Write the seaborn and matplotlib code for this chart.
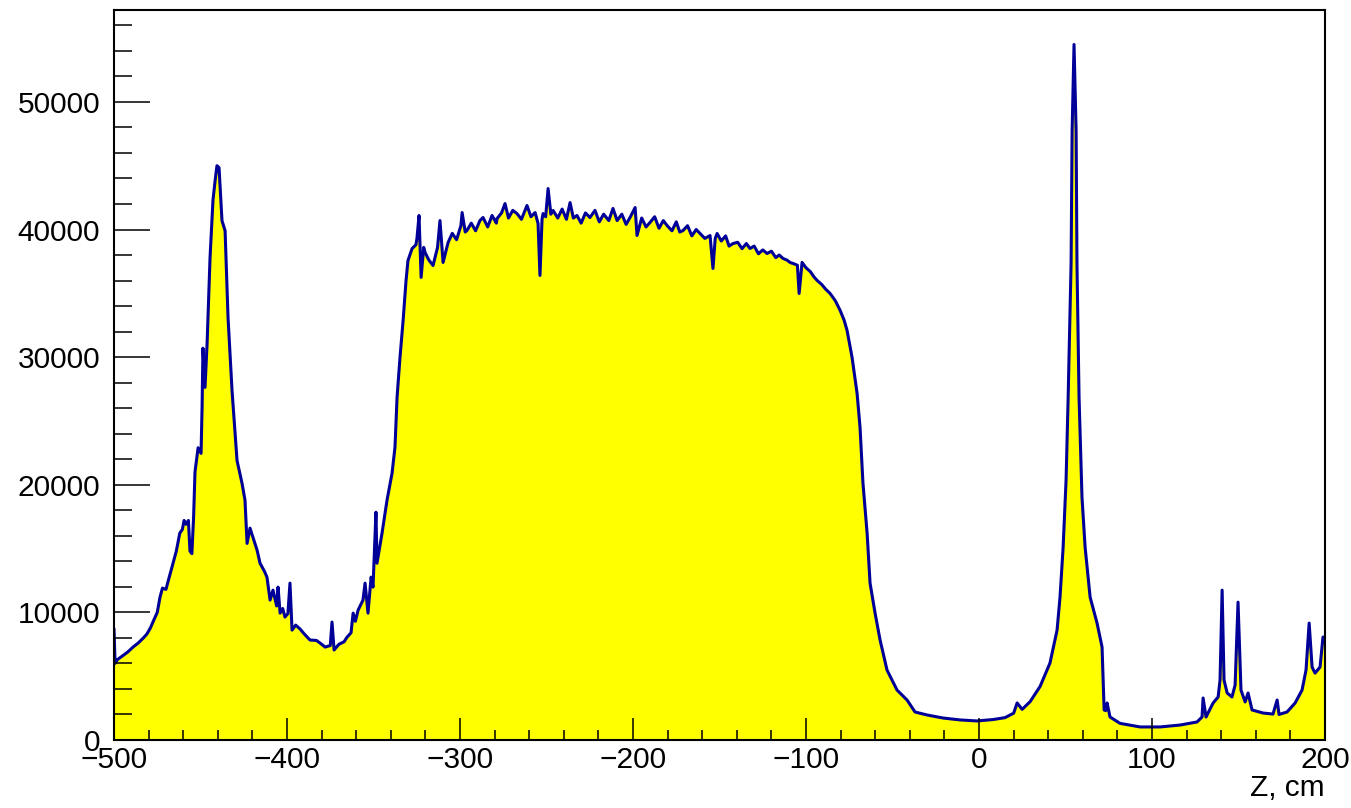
import pandas as pd
import matplotlib
matplotlib.use("Agg")
import matplotlib.pyplot as plt
import seaborn as sns
from matplotlib.ticker import MultipleLocator

# ============================================
# Data
# ============================================

z_left = [
    -500, -499.4, -498, -495, -492, -489, -486, -483, -481, -479, -477, -475,
    -473.4, -472, -470, -468, -466.5, -464, -462, -460.5, -459.5, -458.4, -457,
    -456.1, -455, -454, -453.2, -451.4, -449.7, -449.1, -448.6, -447.4, -446.2,
    -444.5, -442.8, -441.6, -440.5, -439.3, -437.6, -435.8, -434.1, -431.8,
    -428.9, -426, -424.3, -423.1, -421.4, -419, -417.3, -415.6, -413, -411.6,
    -409.8, -408.1, -406, -405.2, -404, -402.5, -401.2, -399.5, -398.3, -397.1,
    -395, -392.5,
]
counts_left = [
    8700, 6000, 6300, 6600, 6900, 7280, 7600, 8000, 8300, 8770, 9400, 10000,
    11200, 11900, 11800, 12800, 13540, 14800, 16200, 16500, 17200, 16900, 17200,
    14800, 14600, 17500, 21000, 22900, 22460, 26070, 30700, 27630, 31080,
    37800, 42300, 43800, 45000, 44850, 40700, 39900, 33100, 27400,
    21900, 20100, 18800, 15400, 16600, 15600, 14870, 13850, 13200, 12760,
    10960, 11740, 10500, 11980, 9940, 10300, 9630, 9900, 12290, 8610,
    9000, 8700,
]

z_rise = [
    -390, -386.7, -383, -380, -378, -375, -374, -372.8, -370, -367, -365.3,
    -363, -361.8, -360.5, -358.9, -356.1, -354.9, -353.2, -351.4, -350.3,
    -348.6, -348, -345.1, -342.2, -339.3, -337.6, -336.4, -334.7, -332.9,
    -331.2, -330.1, -327.7, -325.5, -324.9, -323.7, -322.5, -321, -320.2,
    -318, -315.6, -313, -311.6, -309.8,
]
counts_rise = [
    8300, 7830, 7800, 7500, 7280, 7400, 9240, 7050, 7500, 7700, 8060,
    8400, 9940, 9300, 10180, 10960, 12290, 9940, 12760, 11980,
    17850, 13850, 16200, 18790, 20900, 22940, 26850, 29980, 32880,
    36010, 37570, 38510, 38800, 39300, 41100, 36250, 38600, 38200,
    37600, 37180, 38600, 40700, 37420,
]

z_plateau = [
    -306.9, -304.5, -302, -299.5, -298.8, -297, -296, -293.5, -291, -288.5,
    -286.7, -284, -281.5, -279, -278.6, -276, -274, -272, -269.5, -267.1,
    -264.5, -261.3, -259, -256.6, -254.9, -253.8, -252.6, -252, -250.5, -249.1,
    -247.5, -246.2, -243.5, -241, -238.5, -236.4, -234.5, -232.4, -230, -227.5,
    -224.9, -222, -219.5, -217, -214, -211.6, -209.2, -206.5, -204, -201.5,
    -198.8, -197.7, -195, -192.5, -190.2, -187.5, -185, -182.5, -180.3, -177.5,
    -175, -173, -171.1, -168.5, -166, -163.5, -161.3, -158.5, -155.5, -153.8,
    -152.5, -151.4, -149, -146.5, -144.5, -142.2, -139.5, -137, -134.5, -132.4,
    -130, -127.5, -125, -122.5, -120, -117.5, -115.5, -113.3, -111, -109,
    -107.5, -105, -104, -102.3, -100, -97.5, -95.5, -93.6, -91, -88.5,
    -86.1, -83, -80.3, -78, -76.3,
]
counts_plateau = [
    38980, 39700, 39200, 40300, 41330, 39800, 39920, 40500, 39900, 40700,
    40940, 40200, 41100, 40500, 40860, 41300, 42030, 40900, 41500, 41250,
    40800, 41880, 41000, 41330, 40470, 36400, 40800, 41250, 41000, 43210,
    41200, 41490, 40900, 41600, 40800, 42110, 40900, 41100, 40500, 41300,
    40940, 41500, 40600, 41200, 40700, 41650, 40700, 41200, 40400, 41000,
    41720, 39530, 40900, 40200, 40550, 41000, 40100, 40700, 40310, 39900,
    40600, 39800, 39920, 40300, 39500, 40000, 39690, 39300, 39530, 36950,
    39300, 39690, 39100, 39500, 38700, 38900, 39000, 38500, 38900, 38510,
    38700, 38100, 38400, 38120, 38300, 37800, 38000, 37730, 37600, 37400,
    37340, 37200, 34990, 37420, 37000, 36700, 36300, 36010, 35700, 35300,
    34990, 34400, 33660, 32900, 32100,
]

z_right = [
    -73.4, -70.5, -68.8, -67.1, -64.7, -63, -60.1, -57.2, -53.2, -47.4, -41.6,
    -37, -30.1, -20.8, -11, -1.2, 8.1, 15, 20, 22, 24.9, 29.5, 35.3, 41, 45.1,
    46.8, 48.6, 50.3, 51.5, 53.2, 53.8, 54.9, 56.1, 56.6, 57.8, 59.5, 61.3,
    64.2, 68.2, 71.1, 72.3, 73.2, 74, 75.7, 81.5, 93.1, 104.6, 116.2, 126,
    128.9, 129.5, 131.2, 135.3, 138.2, 139.3, 140.5, 141.6, 143.4, 146.2, 148,
    149.7, 151.4, 153.8, 155.5, 157.8, 164.2, 169.9, 172.3, 173.4, 178, 182.7,
    186.7, 189, 190.8, 192.5, 194.2, 197.1, 198.8, 200,
]
counts_right = [
    29980, 27160, 24500, 20120, 16200, 12290, 9940, 7830, 5480, 3910, 3130,
    2190, 1960, 1720, 1570, 1490, 1600, 1750, 2100, 2900, 2400, 3000, 4200, 6030, 8610,
    11190, 15110, 20350, 26850, 37340, 47750, 54500, 47750, 37340, 26850, 19020, 15110,
    11190, 9160, 7280, 2350, 2300, 2900, 1800, 1300, 1020, 1020, 1170, 1410,
    1800, 3290, 1800, 2900, 3370, 4700, 11740, 4700, 3680, 3370, 4300,
    10800, 3910, 2980, 3680, 2350, 2110, 2030, 3130, 2000, 2190, 2900,
    3910, 5480, 9160, 5710, 5240, 5710, 8060, 8060,
]

z_cm = z_left + z_rise + z_plateau + z_right
counts = counts_left + counts_rise + counts_plateau + counts_right

df = pd.DataFrame({"z": z_cm, "counts": counts})

# ============================================
# Style
# ============================================

sns.set_style("ticks")
plt.rcParams["font.family"] = ["Liberation Sans", "DejaVu Sans"]

fig = plt.figure(figsize=(13.51, 8.08), dpi=100)
ax = fig.add_axes([0.0844, 0.0842, 0.8964, 0.9034])
ax.set_axisbelow(False)

ax.fill_between(df["z"], df["counts"], 0, color="#ffff00", lw=0, zorder=1)

sns.lineplot(
    data=df,
    x="z",
    y="counts",
    ax=ax,
    color="#000099",
    lw=2.2,
    estimator=None,
    sort=False,
    zorder=2
)

ax.set_xlim(-500, 200)
ax.set_ylim(0, 57200)

ax.xaxis.set_major_locator(MultipleLocator(100))
ax.xaxis.set_minor_locator(MultipleLocator(20))
ax.yaxis.set_major_locator(MultipleLocator(10000))
ax.yaxis.set_minor_locator(MultipleLocator(2000))

ax.tick_params(axis="both", which="both", direction="in", colors="black",
               labelsize=21.5, width=1.1)
ax.tick_params(axis="y", which="major", length=26, pad=10)
ax.tick_params(axis="y", which="minor", length=13)
ax.tick_params(axis="x", which="major", length=16, pad=4)
ax.tick_params(axis="x", which="minor", length=7.5)

for side in ["top", "right", "left", "bottom"]:
    ax.spines[side].set_visible(True)
    ax.spines[side].set_linewidth(1.5)
    ax.spines[side].set_color("black")
    ax.spines[side].set_zorder(3)

ax.set_ylabel("")
ax.set_xlabel("Z, cm", fontsize=21.5, ha="right", color="black")
ax.xaxis.set_label_coords(1.0, -0.046)

fig.savefig("out.png", dpi=100, facecolor="white")
